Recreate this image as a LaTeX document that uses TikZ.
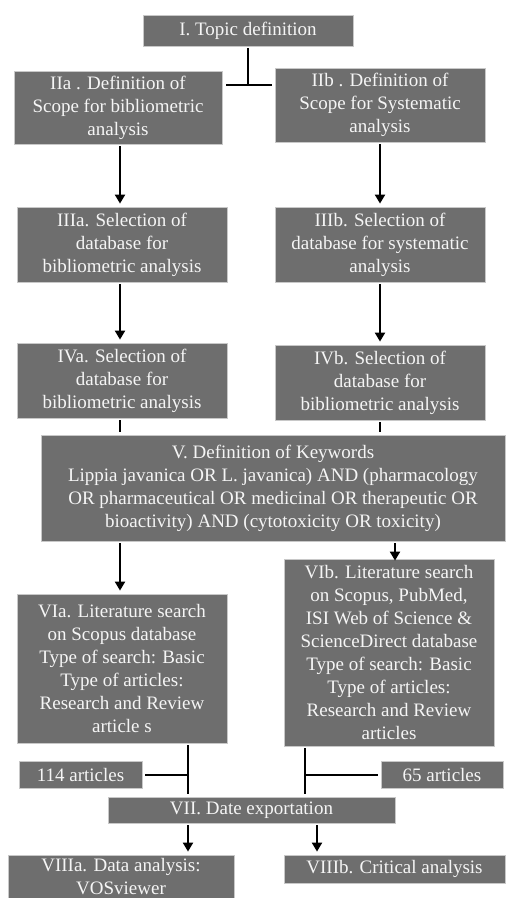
\documentclass[tikz,border=0pt]{standalone}
\usepackage{fontspec}
\setmainfont{Liberation Serif}
\usepackage{xcolor}
\definecolor{boxgray}{RGB}{110,110,110}
\definecolor{boxedge}{RGB}{200,200,200}
\definecolor{boxtext}{RGB}{245,245,245}
\usetikzlibrary{arrows.meta,positioning}

\begin{document}
\begin{tikzpicture}[
  x=1pt, y=-1pt,
  stage/.style={draw=boxedge, line width=0.8pt, fill=boxgray, text=boxtext, align=center, inner sep=0pt, font=\fontsize{19}{23}\selectfont},
  arrow/.style={-{Triangle[length=9pt, width=10pt]}, line width=2pt, shorten <=2pt, shorten >=3pt},
  link/.style={line width=2pt, shorten <=2pt, shorten >=3pt}
]
\useasboundingbox (0,0) rectangle (508,898);

% stage boxes
\node[stage, minimum width=210pt, minimum height=31pt] (topic) at (248,30.5) {I. Topic definition};
\node[stage, minimum width=208pt, minimum height=73pt] (scopeA) at (118,107.5) {IIa . Definition of\\Scope for bibliometric\\analysis};
\node[stage, minimum width=210pt, minimum height=74pt] (scopeB) at (380,105) {IIb . Definition of\\Scope for Systematic\\analysis};
\node[stage, minimum width=210pt, minimum height=75pt] (dbA) at (122,244.5) {IIIa. Selection of\\database for\\bibliometric analysis};
\node[stage, minimum width=210pt, minimum height=75pt] (dbB) at (380,244.5) {IIIb. Selection of\\database for systematic\\analysis};
\node[stage, minimum width=210pt, minimum height=75pt] (selA) at (122,380.5) {IVa. Selection of\\database for\\bibliometric analysis};
\node[stage, minimum width=210pt, minimum height=75pt] (selB) at (380,382.5) {IVb. Selection of\\database for\\bibliometric analysis};
\node[stage, minimum width=464pt, minimum height=106pt] (keys) at (273,488) {V. Definition of Keywords\\Lippia javanica OR L. javanica) AND (pharmacology\\OR pharmaceutical OR medicinal OR therapeutic OR\\bioactivity) AND (cytotoxicity OR toxicity)};
\node[stage, minimum width=210pt, minimum height=149pt] (searchA) at (122,668.5) {VIa. Literature search\\on Scopus database\\Type of search: Basic\\Type of articles:\\Research and Review\\article s};
\node[stage, minimum width=210pt, minimum height=187pt] (searchB) at (389,652.5) {VIb. Literature search\\on Scopus, PubMed,\\ISI Web of Science \&\\ScienceDirect database\\Type of search: Basic\\Type of articles:\\Research and Review\\articles};
\node[stage, minimum width=123pt, minimum height=27pt] (countA) at (80.5,774.5) {114 articles};
\node[stage, minimum width=122pt, minimum height=27pt] (countB) at (442,774.5) {65 articles};
\node[stage, minimum width=287pt, minimum height=26pt] (export) at (251.5,810) {VII. Date exportation};
\node[stage, minimum width=226pt, minimum height=44pt] (anaA) at (121,877) {VIIIa. Data analysis:\\VOSviewer};
\node[stage, minimum width=221pt, minimum height=28pt] (anaB) at (394.5,869) {VIIIb. Critical analysis};

% columns and junctions
\coordinate (colA) at (120,0);
\coordinate (colB) at (380,0);
\coordinate (colC) at (395,0);
\coordinate (joinA) at (188,0);
\coordinate (joinB) at (305,0);
\coordinate (outB) at (317,0);
\coordinate (split) at (248,85);

% connectors
\draw[link, shorten >=0pt] (topic) -- (split);
\draw[line width=2pt, shorten <=4pt, shorten >=3pt] (scopeA.east |- split) -- (scopeB.west |- split);
\draw[arrow] (scopeA.south -| colA) -- (dbA.north -| colA);
\draw[arrow] (scopeB.south -| colB) -- (dbB.north -| colB);
\draw[arrow] (dbA.south -| colA) -- (selA.north -| colA);
\draw[arrow] (dbB.south -| colB) -- (selB.north -| colB);
\draw[link] (selA.south -| colA) -- (keys.north -| colA);
\draw[link] (selB.south -| colB) -- (keys.north -| colB);
\draw[arrow] (keys.south -| colA) -- (searchA.north -| colA);
\draw[arrow, shorten >=-2pt] (keys.south -| colC) -- (searchB.north -| colC);
\draw[link] (searchA.south -| joinA) -- (export.north -| joinA);
\draw[link] (searchB.south -| joinB) -- (export.north -| joinB);
\draw[line width=2pt, shorten <=3pt, shorten >=-1pt] (countA.east) -- (countA.east -| joinA);
\draw[line width=2pt, shorten <=3pt, shorten >=-1pt] (countB.west) -- (countB.west -| joinB);
\draw[arrow] (export.south -| joinA) -- (anaA.north -| joinA);
\draw[arrow] (export.south -| outB) -- (anaB.north -| outB);
\end{tikzpicture}
\end{document}
